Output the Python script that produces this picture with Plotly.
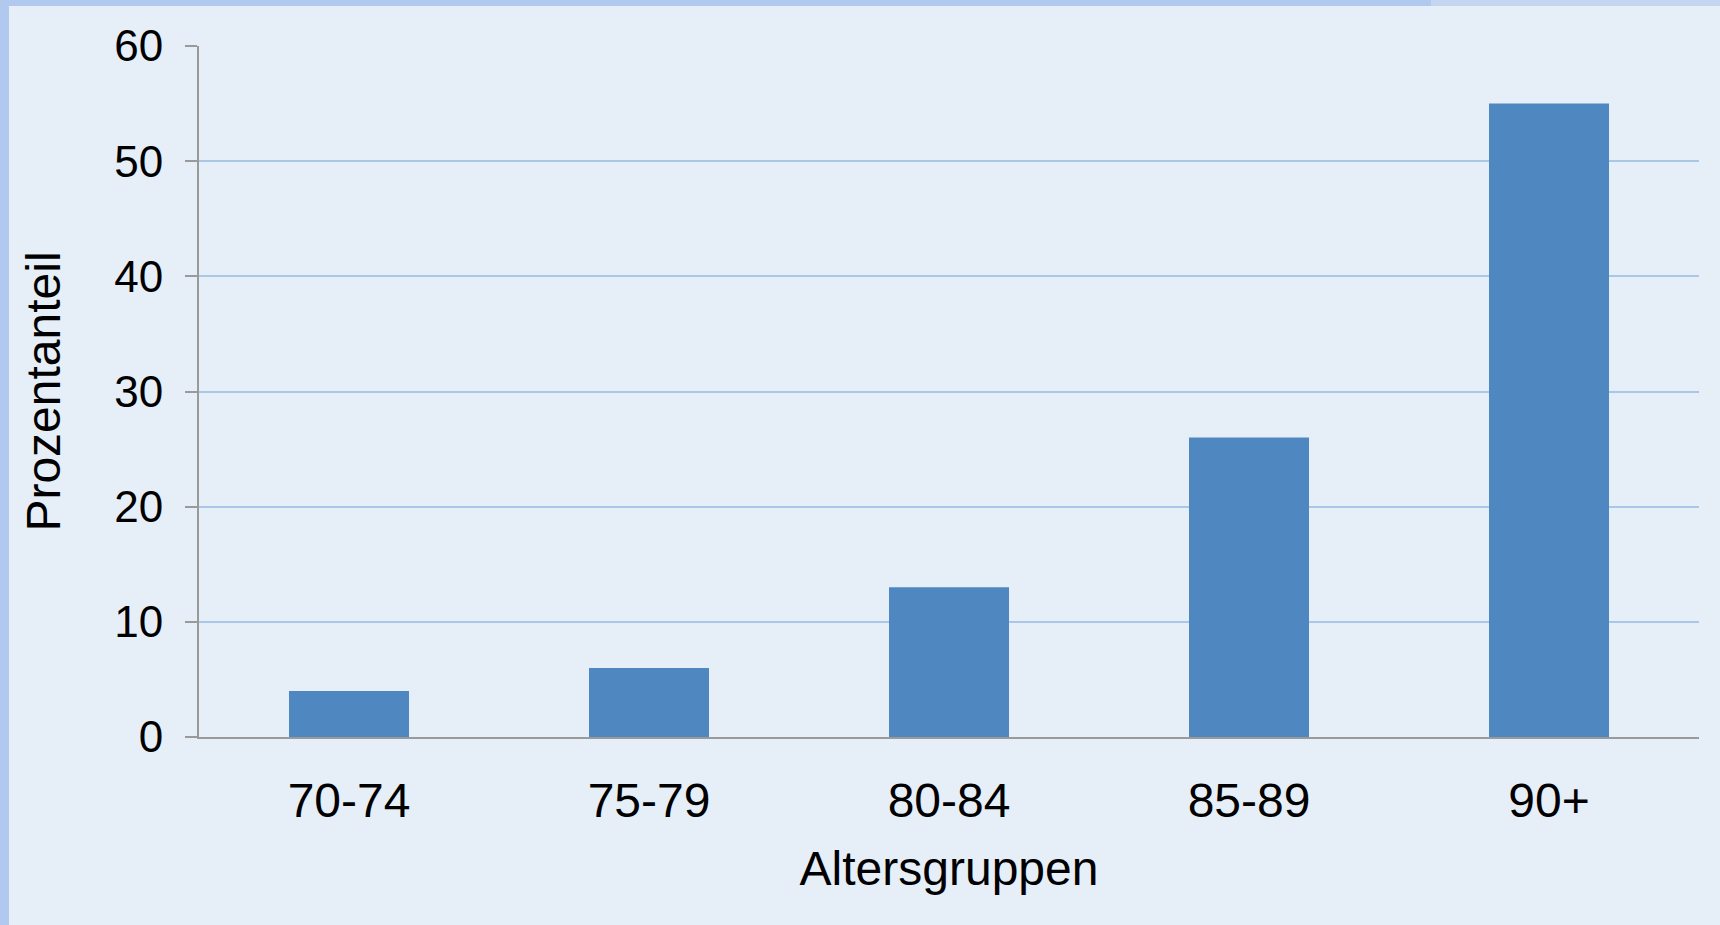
import plotly.graph_objects as go

# Share of each age group (percent)
age_groups = ["70-74", "75-79", "80-84", "85-89", "90+"]
share_pct = [4, 6, 13, 26, 55]
y_ticks = [0, 10, 20, 30, 40, 50, 60]

W, H = 1720, 925
ML, MR, MT, MB = 199, 21, 46, 188
plot_w = W - ML - MR
plot_h = H - MT - MB


def px_x(p):
    return (p - ML) / plot_w


def px_y(p):
    return (H - MB - p) / plot_h


BG = "#e6eef8"
FONT = "Liberation Sans, Arial, sans-serif"

fig = go.Figure(
    go.Bar(
        x=age_groups,
        y=share_pct,
        width=0.4,
        marker=dict(color="#4f88c0", line=dict(width=0)),
        hoverinfo="x+y",
    )
)

# frame strips along the left and top edges
frame = [
    dict(x0=px_x(0), x1=px_x(9), y0=px_y(H), y1=px_y(0), color="#b1c9ee"),
    dict(x0=px_x(0), x1=px_x(1431), y0=px_y(6), y1=px_y(0), color="#b1c9ee"),
    dict(x0=px_x(1431), x1=px_x(W), y0=px_y(6), y1=px_y(0), color="#c5d6f1"),
]
shapes = [
    dict(type="rect", xref="paper", yref="paper", x0=f["x0"], x1=f["x1"],
         y0=f["y0"], y1=f["y1"], fillcolor=f["color"], line=dict(width=0),
         layer="below")
    for f in frame
]

fig.update_layout(
    width=W,
    height=H,
    margin=dict(l=ML, r=MR, t=MT, b=MB, pad=0),
    paper_bgcolor=BG,
    plot_bgcolor=BG,
    font=dict(family=FONT, size=46, color="#000000"),
    showlegend=False,
    bargap=0.6,
    shapes=shapes,
    xaxis=dict(
        showgrid=False,
        showline=True,
        linecolor="#9a9a9a",
        linewidth=2,
        ticks="outside",
        ticklen=20,
        tickcolor="rgba(0,0,0,0)",
        tickfont=dict(family=FONT, size=48),
        title=dict(text="Altersgruppen", font=dict(family=FONT, size=48), standoff=26),
        fixedrange=True,
    ),
    yaxis=dict(
        range=[0, 60],
        tickvals=y_ticks,
        showgrid=True,
        gridcolor="#abc7e8",
        gridwidth=2,
        zeroline=False,
        showline=True,
        linecolor="#9a9a9a",
        linewidth=2,
        ticks="outside",
        ticklen=12,
        tickwidth=2,
        tickcolor="#9a9a9a",
        ticklabelstandoff=13,
        tickfont=dict(family=FONT, size=44),
        title=dict(text="Prozentanteil", font=dict(family=FONT, size=48), standoff=38),
        fixedrange=True,
    ),
)

fig.write_html("out.html", config={"displayModeBar": False})
